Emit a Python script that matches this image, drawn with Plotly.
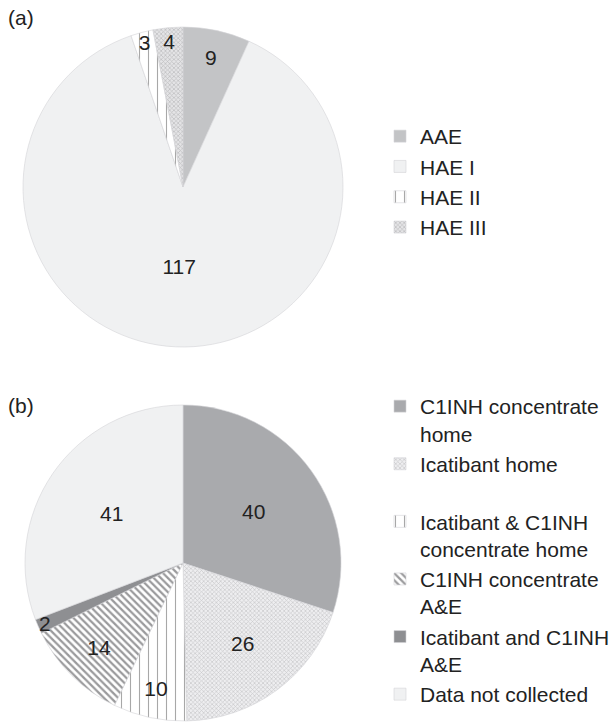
import plotly.graph_objects as go

# Panel (a)
labels_a = ["AAE", "HAE I", "HAE II", "HAE III"]
values_a = [9, 117, 3, 4]

# Panel (b)
labels_b = [
    "C1INH concentrate<br>home",
    "Icatibant home<br>&nbsp;",
    "Icatibant & C1INH<br>concentrate home",
    "C1INH concentrate<br>A&E",
    "Icatibant and C1INH<br>A&E",
    "Data not collected",
]
values_b = [40, 26, 10, 14, 2, 41]

FONT = "Liberation Sans, Arial, sans-serif"
W, H = 616, 725

fig = go.Figure()

fig.add_trace(go.Pie(
    labels=labels_a, values=values_a, sort=False, direction="clockwise", rotation=0,
    domain=dict(x=[23 / W, 343 / W], y=[1 - 347 / H, 1 - 27 / H]),
    marker=dict(
        colors=["#c3c4c6", "#f0f1f2", "#ffffff", "#dcdcde"],
        line=dict(color="#d4d4d6", width=0.6),
        pattern=dict(
            shape=["", "", "|", "x"],
            fgcolor=["#c3c4c6", "#f0f1f2", "#a8a8a8", "#bcbcbe"],
            bgcolor=["#c3c4c6", "#f0f1f2", "#ffffff", "#e4e4e6"],
            size=[6, 6, 9, 3], solidity=[0.3, 0.3, 0.12, 0.4],
        ),
    ),
    textinfo="value", textposition="inside", insidetextorientation="horizontal",
    textfont=dict(family=FONT, size=21, color="#222222"),
    legend="legend", hoverinfo="label+value",
))

fig.add_trace(go.Pie(
    labels=labels_b, values=values_b, sort=False, direction="clockwise", rotation=0,
    domain=dict(x=[25 / W, 341 / W], y=[1 - 721 / H, 1 - 405 / H]),
    marker=dict(
        colors=["#a9aaad", "#e2e2e4", "#ffffff", "#ffffff", "#8e8f92", "#f0f1f2"],
        line=dict(color="#d4d4d6", width=0.6),
        pattern=dict(
            shape=["", "x", "|", "\\", "", ""],
            fgcolor=["#a9aaad", "#c8c8ca", "#a8a8a8", "#9a9a9c", "#8e8f92", "#f0f1f2"],
            bgcolor=["#a9aaad", "#eeeef0", "#ffffff", "#ffffff", "#8e8f92", "#f0f1f2"],
            size=[6, 3, 9, 5, 6, 6], solidity=[0.3, 0.4, 0.12, 0.45, 0.3, 0.3],
        ),
    ),
    textinfo="value", textposition="inside", insidetextorientation="horizontal",
    textfont=dict(family=FONT, size=21, color="#222222"),
    legend="legend2", hoverinfo="label+value",
))

fig.update_layout(
    width=W, height=H,
    margin=dict(l=0, r=0, t=0, b=0),
    paper_bgcolor="white",
    font=dict(family=FONT, size=21, color="#222222"),
    uniformtext=dict(minsize=21, mode="show"),
    legend=dict(x=380 / W, y=1 - 116 / H, xanchor="left", yanchor="top",
                font=dict(family=FONT, size=21, color="#222222"),
                bgcolor="rgba(0,0,0,0)", valign="top"),
    legend2=dict(x=380 / W, y=1 - 386 / H, xanchor="left", yanchor="top",
                 font=dict(family=FONT, size=21, color="#222222"),
                 bgcolor="rgba(0,0,0,0)", valign="top"),
    annotations=[
        dict(text="(a)", x=6 / W, y=1 - 18 / H, xref="paper", yref="paper",
             xanchor="left", yanchor="middle", showarrow=False,
             font=dict(family=FONT, size=21, color="#222222")),
        dict(text="(b)", x=6 / W, y=1 - 405 / H, xref="paper", yref="paper",
             xanchor="left", yanchor="middle", showarrow=False,
             font=dict(family=FONT, size=21, color="#222222")),
    ],
)

fig.write_html("out.html", config={"displayModeBar": False},
               post_script="document.body.style.margin='0';")
